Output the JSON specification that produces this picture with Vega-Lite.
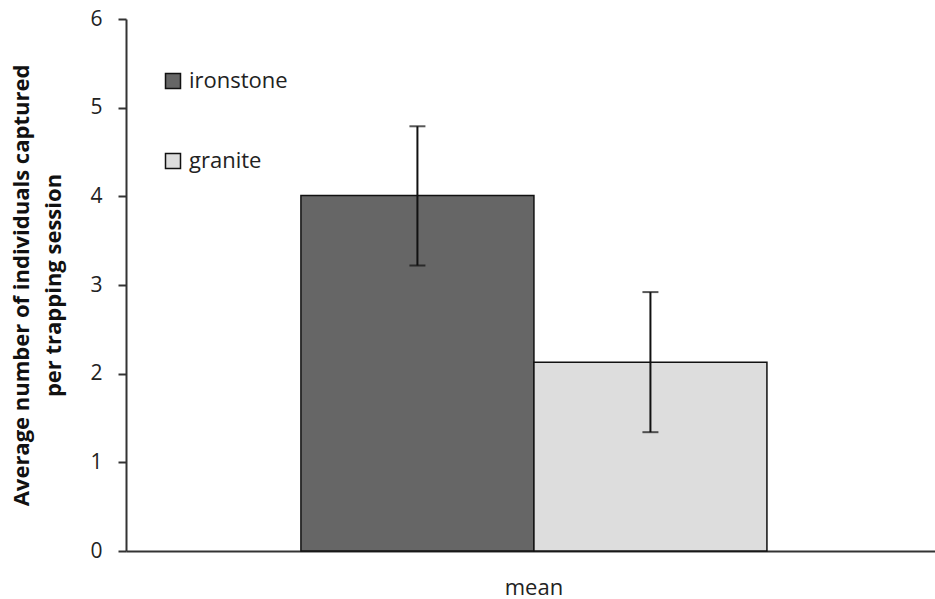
{
  "$schema": "https://vega.github.io/schema/vega-lite/v6.json",
  "autosize": "none",
  "padding": {"left": 126, "top": 19, "right": 0, "bottom": 48},
  "width": 809,
  "height": 532,
  "background": "white",
  "config": {
    "font": "Open Sans",
    "view": {"stroke": null},
    "axis": {"labelFont": "Open Sans", "titleFont": "Open Sans", "grid": false}
  },
  "data": {
    "values": [
      {"cat": "mean", "group": "ironstone", "value": 4.01, "lo": 3.22, "hi": 4.79},
      {"cat": "mean", "group": "granite", "value": 2.13, "lo": 1.34, "hi": 2.92}
    ]
  },
  "encoding": {
    "x": {
      "field": "cat", "type": "nominal",
      "scale": {"paddingInner": 0, "paddingOuter": 0.368, "align": 0.51},
      "axis": {"title": null, "labelAngle": 0, "ticks": false, "labelFontSize": 22, "labelColor": "#222", "labelPadding": 26, "domainColor": "#333", "domainWidth": 2}
    },
    "xOffset": {"field": "group", "type": "nominal", "sort": ["ironstone", "granite"], "scale": {"paddingInner": 0, "paddingOuter": 0}}
  },
  "layer": [
    {
      "mark": {"type": "bar", "stroke": "#111", "strokeWidth": 1.5},
      "encoding": {
        "y": {
          "field": "value", "type": "quantitative",
          "scale": {"domain": [0, 6], "nice": false},
          "axis": {
            "values": [0, 1, 2, 3, 4, 5, 6], "format": "d",
            "title": ["Average number of individuals captured", "per trapping session"],
            "titleFontSize": 22, "titleFontWeight": "bold", "titleColor": "#111",
            "titleLineHeight": 32, "titlePadding": 24,
            "labelFontSize": 21, "labelColor": "#222", "labelPadding": 16,
            "tickSize": 8, "tickColor": "#333", "tickWidth": 2,
            "domainColor": "#333", "domainWidth": 2
          }
        },
        "color": {
          "field": "group", "type": "nominal",
          "scale": {"domain": ["ironstone", "granite"], "range": ["#666666", "#dddddd"]},
          "legend": {
            "title": null, "orient": "none", "legendX": 36, "legendY": 51,
            "symbolType": "square", "symbolSize": 225, "symbolStrokeColor": "#111", "symbolStrokeWidth": 1.5,
            "labelFont": "Open Sans", "labelFontSize": 22, "labelColor": "#222", "labelOffset": 5, "rowPadding": 58, "padding": 0
          }
        }
      }
    },
    {
      "mark": {"type": "rule", "stroke": "#111", "strokeWidth": 2},
      "encoding": {
        "y": {"field": "lo", "type": "quantitative"},
        "y2": {"field": "hi"}
      }
    },
    {
      "mark": {"type": "tick", "color": "#111", "size": 16, "thickness": 2, "orient": "horizontal"},
      "encoding": {"y": {"field": "lo", "type": "quantitative"}}
    },
    {
      "mark": {"type": "tick", "color": "#111", "size": 16, "thickness": 2, "orient": "horizontal"},
      "encoding": {"y": {"field": "hi", "type": "quantitative"}}
    }
  ]
}
